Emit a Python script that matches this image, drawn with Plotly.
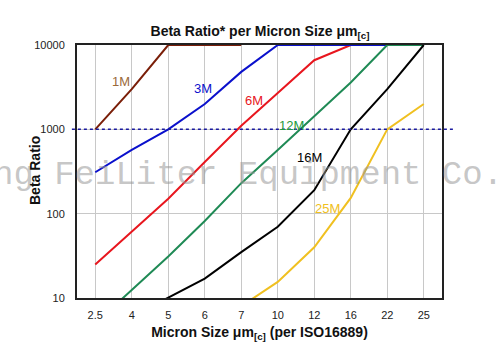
import plotly.graph_objects as go

sizes = ["2.5", "4", "5", "6", "7", "10", "12", "16", "22", "25"]

beta_1m = [1000, 3000, 10000, 10000, 10000, None, None, None, None, None]
beta_3m = [310, 570, 1000, 2000, 4800, 10000, 10000, 10000, 10000, None]
beta_6m = [25, 61, 150, 410, 1100, 2700, 6600, 10000, None, None]
beta_12m = [5, 12.4, 31, 82, 230, 570, 1450, 3600, 10000, 10000]
beta_16m = [None, 6, 10, 17, 35, 70, 190, 1000, 3000, 10000]
beta_25m = [None, None, None, None, 8, 15.5, 40, 154, 1000, 2000]

series = [
    ("6M", beta_6m, "#e8161e", "#e8161e", 4.36, 3.34),
    ("1M", beta_1m, "#7a1e08", "#9a6a3a", 0.71, 3.57),
    ("3M", beta_3m, "#0a10cc", "#0a10cc", 2.96, 3.49),
    ("12M", beta_12m, "#1f8a55", "#1f9a40", 5.37, 3.04),
    ("16M", beta_16m, "#000000", "#000000", 5.86, 2.67),
    ("25M", beta_25m, "#f0c020", "#f0c020", 6.36, 2.06),
]

fig = go.Figure()
for name, vals, lc, tc, lx, ly in series:
    fig.add_trace(go.Scatter(x=sizes, y=vals, mode="lines", name=name,
                             line=dict(color=lc, width=2), connectgaps=False,
                             hoverinfo="skip"))

annotations = []
for name, vals, lc, tc, lx, ly in series:
    annotations.append(dict(x=lx, y=ly, xref="x", yref="y", text=name,
                            showarrow=False,
                            font=dict(family="Liberation Sans, Arial", size=13, color=tc)))

# watermark (paper coords are relative to plot area 77..442 x 45..298)
annotations.append(dict(x=(247.5 - 77) / 365, y=(298 - 175) / 253, xref="paper", yref="paper",
                        text="ng FeiLiter Equipment Co.", showarrow=False,
                        xanchor="center", yanchor="middle",
                        font=dict(family="Liberation Mono, Courier New, monospace",
                                  size=34, color="rgba(150,150,150,0.55)")))

# y-axis title as annotation (closer to the axis than standoff allows)
annotations.append(dict(x=(35 - 77) / 365, y=(298 - 171) / 253, xref="paper", yref="paper",
                        text="<b>Beta Ratio</b>", showarrow=False, textangle=-90,
                        xanchor="center", yanchor="middle",
                        font=dict(family="Liberation Sans, Arial", size=14, color="#111")))

fig.update_layout(
    width=500, height=355,
    margin=dict(l=77, r=58, t=45, b=57, autoexpand=False),
    paper_bgcolor="white", plot_bgcolor="white",
    showlegend=False,
    title=dict(text="<b>Beta Ratio* per Micron Size μm<sub>[c]</sub></b>",
               x=260 / 500, xanchor="center", y=1 - 31 / 355, yanchor="middle",
               font=dict(family="Liberation Sans, Arial", size=14, color="#111")),
    annotations=annotations,
    shapes=[dict(type="line", xref="paper", yref="y", x0=-0.014, x1=1.03,
                 y0=1000, y1=1000, line=dict(color="#1a1aa0", width=1.5, dash="dot"),
                 layer="above")],
)

fig.update_xaxes(
    type="category", range=[-0.5, 9.5], automargin=False,
    showgrid=True, gridcolor="#c8c8c8", gridwidth=1,
    showline=True, linecolor="#222", linewidth=2, mirror=True,
    ticks="", ticklabelstandoff=6,
    tickfont=dict(family="Liberation Sans, Arial", size=11, color="#222"),
    title=dict(text="<b>Micron Size μm<sub>[c]</sub> (per ISO16889)</b>", standoff=7,
               font=dict(family="Liberation Sans, Arial", size=14, color="#111")),
    zeroline=False,
)
fig.update_yaxes(
    type="log", range=[1, 4], automargin=False,
    tickvals=[10, 100, 1000, 10000], ticktext=["10", "100", "1000", "10000"],
    showgrid=True, gridcolor="#c8c8c8", gridwidth=1,
    showline=True, linecolor="#222", linewidth=2, mirror=True,
    ticks="", ticklabelstandoff=8,
    tickfont=dict(family="Liberation Sans, Arial", size=11, color="#222"),
    zeroline=False,
)

fig.write_html("out.html", config={"displayModeBar": False},
               post_script="document.body.style.margin='0';")
